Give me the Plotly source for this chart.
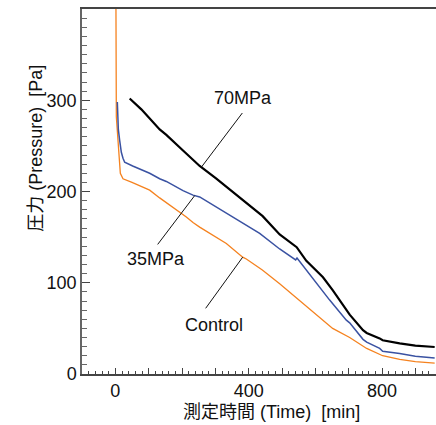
import numpy as np
import plotly.graph_objects as go

# Pressure decay curves: time [min] vs pressure [Pa]
t_70 = [43, 78, 133, 153, 203, 253, 303, 343, 397, 442, 493, 518, 544, 573, 604, 623,
        652, 673, 693, 703, 743, 754, 793, 802, 853, 900, 958]
p_70 = [302, 290, 268, 262, 245, 228, 214, 202, 186, 173, 153, 146, 139, 124, 113, 106,
        92, 81, 71, 65, 48, 45, 39, 37, 33.5, 31, 29.6]

t_35 = [6, 9, 13, 18, 23, 28, 52, 103, 133, 153, 203, 233, 253, 293, 333, 343, 393, 433,
        493, 530, 541, 545, 593, 643, 693, 703, 743, 754, 793, 802, 853, 900, 958]
p_35 = [298, 268, 256, 243, 236.5, 232, 228, 220, 214, 211, 201, 196, 194, 185, 176, 174, 163, 154,
        137, 128, 125, 127, 104, 81, 59, 56, 38, 35, 28, 25, 22.5, 19.5, 17.5]

t_ctrl = [1.5, 3, 15, 23, 50, 103, 133, 153, 213, 233, 253, 333, 343, 382, 393, 441, 493, 544,
          553, 593, 604, 652, 703, 754, 802, 853, 900, 958]
p_ctrl = [440, 282, 220, 214, 210, 201.5, 193, 188, 172, 166, 161, 143, 140, 128, 126, 114, 99, 83,
          80, 68, 64, 50, 40, 28, 20, 16, 13.5, 12]

x_tickvals = [-100, 0, 100, 200, 300, 400, 500, 600, 700, 800, 900]
x_ticktext = ["", "0", "", "", "", "400", "", "", "", "800", ""]
y_tickvals = [0, 100, 200, 300]
y_ticktext = ["0", "100", "200", "300"]

FONT = "Arial, 'Liberation Sans', 'Noto Sans CJK JP', sans-serif"
AXIS_COLOR = "#444444"

fig = go.Figure()
fig.add_trace(go.Scatter(x=t_ctrl, y=p_ctrl, mode="lines", name="Control",
                         line=dict(color="#F5821F", width=1.3)))
fig.add_trace(go.Scatter(x=t_35, y=p_35, mode="lines", name="35MPa",
                         line=dict(color="#3A52A2", width=1.5)))
fig.add_trace(go.Scatter(x=t_70, y=p_70, mode="lines", name="70MPa",
                         line=dict(color="#000000", width=2.2)))

# series labels with leader lines ending on their curves
labels = [
    ("70MPa", 382, 302, 381, 286, 258, t_70, p_70),
    ("35MPa", 121, 126, 127, 142, 238, t_35, p_35),
    ("Control", 295, 54, 271, 72, 382, t_ctrl, p_ctrl),
]
annotations = []
shapes = []
for text, tx, ty, lx0, ly0, lt, ts, ps in labels:
    annotations.append(dict(x=tx, y=ty, xref="x", yref="y", text=text, showarrow=False,
                            xanchor="center", yanchor="middle",
                            font=dict(family=FONT, size=18, color="#111111")))
    shapes.append(dict(type="line", xref="x", yref="y", x0=lx0, y0=ly0,
                       x1=lt, y1=float(np.interp(lt, ts, ps)),
                       line=dict(color="#111111", width=1)))

annotations.append(dict(x=-0.131, y=0.619, xref="paper", yref="paper", textangle=-90,
                        xanchor="center", yanchor="middle",
                        text="圧力 (Pressure)\u00a0\u00a0[Pa]", showarrow=False,
                        font=dict(family=FONT, size=18, color="#111111")))
annotations.append(dict(x=0.535, y=-0.104, xref="paper", yref="paper",
                        xanchor="center", yanchor="middle",
                        text="測定時間 (Time)\u00a0\u00a0[min]", showarrow=False,
                        font=dict(family=FONT, size=18, color="#111111")))

fig.update_layout(
    width=436, height=425,
    margin=dict(l=82, r=0, t=9, b=51),
    paper_bgcolor="white", plot_bgcolor="white",
    showlegend=False,
    font=dict(family=FONT, size=18, color="#111111"),
    annotations=annotations,
    shapes=shapes,
    xaxis=dict(range=[-100, 962], showgrid=False, zeroline=False,
               showline=True, linecolor=AXIS_COLOR, linewidth=1.5, mirror=True,
               tickmode="array", tickvals=x_tickvals, ticktext=x_ticktext,
               ticks="inside", ticklen=6, tickwidth=1, tickcolor=AXIS_COLOR,
               minor=dict(dtick=20, ticks="inside", ticklen=3, tickwidth=1, tickcolor=AXIS_COLOR),
               tickfont=dict(family=FONT, size=18, color="#111111")),
    yaxis=dict(range=[0, 400], showgrid=False, zeroline=False,
               showline=True, linecolor="#666666", linewidth=1.5,
               tickmode="array", tickvals=y_tickvals, ticktext=y_ticktext,
               ticks="inside", ticklen=8, tickwidth=1, tickcolor=AXIS_COLOR,
               minor=dict(dtick=10, ticks="inside", ticklen=5, tickwidth=1, tickcolor="#666666"),
               tickfont=dict(family=FONT, size=18, color="#111111")),
    yaxis2=dict(range=[0, 400], overlaying="y", side="left", anchor="x",
                showgrid=False, zeroline=False, showline=False,
                tickmode="array", tickvals=y_tickvals, showticklabels=False,
                ticks="outside", ticklen=3, tickwidth=1, tickcolor=AXIS_COLOR),
)

fig.write_html("out.html")
